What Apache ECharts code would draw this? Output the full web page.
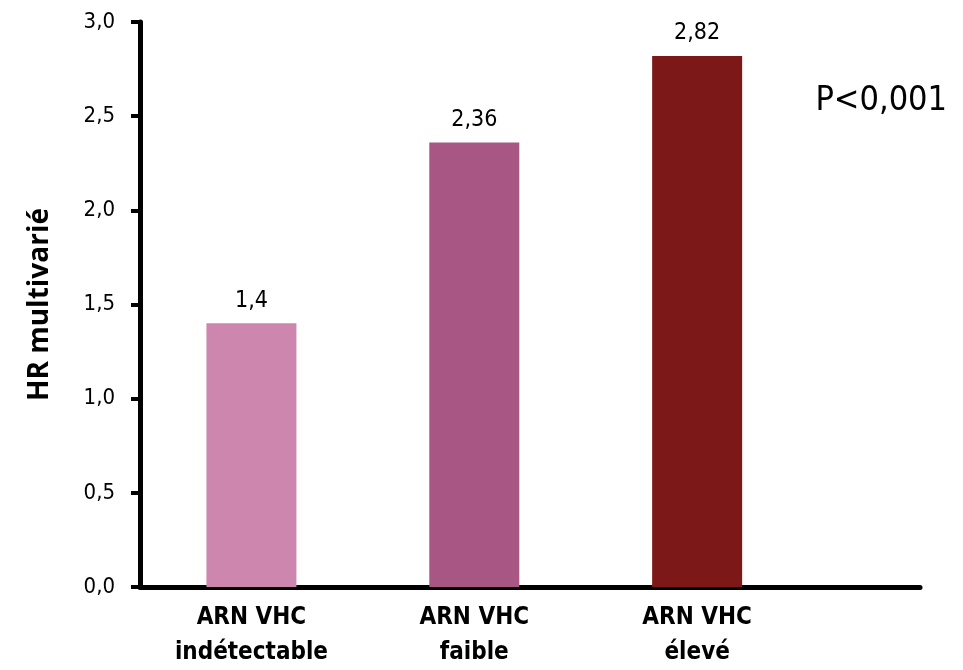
<!DOCTYPE html>
<html>
<head>
<meta charset="utf-8">
<script src="https://cdn.jsdelivr.net/npm/echarts@6/dist/echarts.min.js"></script>
<style>
  html, body { margin: 0; padding: 0; background: #ffffff; }
  #chart { width: 963px; height: 670px; }
</style>
</head>
<body>
<div id="chart"></div>
<script>
// Hazard ratio by HCV RNA level
const categories = ['ARN VHC\nindétectable', 'ARN VHC\nfaible', 'ARN VHC\nélevé'];
const hrValues = [1.4, 2.36, 2.82];
const barColors = ['#CD87AE', '#A85683', '#7D1818'];
const yTitle = 'HR multivarié';
const pValueText = 'P<0,001';

const narrow = '"Liberation Sans Narrow", "DejaVu Sans Condensed", sans-serif';
const toFr = v => String(v).replace('.', ',');

const chart = echarts.init(document.getElementById('chart'), null, { renderer: 'canvas' });

// Each category sits in the middle of a unit-wide slot on a numeric x axis
const barData = hrValues.map((v, i) => ({
  value: [i + 0.5, v],
  itemStyle: { color: barColors[i] }
}));

chart.setOption({
  animation: false,
  backgroundColor: '#ffffff',
  title: {
    text: pValueText,
    right: 11,
    top: 79,
    textStyle: { fontFamily: narrow, fontSize: 34, fontWeight: 'normal', color: '#000' }
  },
  grid: { left: 140, right: 43, top: 22, bottom: 83, containLabel: false, outerBoundsMode: 'none' },
  xAxis: {
    type: 'value',
    min: 0,
    max: 3.5,
    interval: 0.5,
    splitLine: { show: false },
    axisTick: { show: false },
    axisLine: { show: true, onZero: false, lineStyle: { color: '#000', width: 5 } },
    axisLabel: {
      showMinLabel: true,
      showMaxLabel: true,
      margin: 13,
      fontFamily: narrow,
      fontWeight: 'bold',
      fontSize: 24,
      lineHeight: 35,
      color: '#000',
      formatter: v => {
        const i = v - 0.5;
        return Number.isInteger(i) && i >= 0 && i < categories.length ? categories[i] : '';
      }
    }
  },
  yAxis: {
    type: 'value',
    min: 0,
    max: 3,
    interval: 0.5,
    name: yTitle,
    nameLocation: 'middle',
    nameGap: 86,
    nameTextStyle: { fontFamily: '"Open Sans", sans-serif', fontWeight: 'bold', fontSize: 28, color: '#000' },
    splitLine: { show: false },
    axisLine: { show: true, lineStyle: { color: '#000', width: 5 } },
    axisTick: { show: true, inside: false, length: 9, lineStyle: { color: '#000', width: 4 } },
    axisLabel: {
      margin: 25,
      fontFamily: narrow,
      fontSize: 22,
      color: '#000',
      formatter: v => v.toFixed(1).replace('.', ',')
    }
  },
  series: [{
    type: 'bar',
    barWidth: 90,
    data: barData,
    label: {
      show: true,
      position: 'top',
      distance: 11,
      fontFamily: narrow,
      fontSize: 23,
      color: '#000',
      formatter: p => toFr(p.value[1])
    }
  }]
});
</script>
</body>
</html>
